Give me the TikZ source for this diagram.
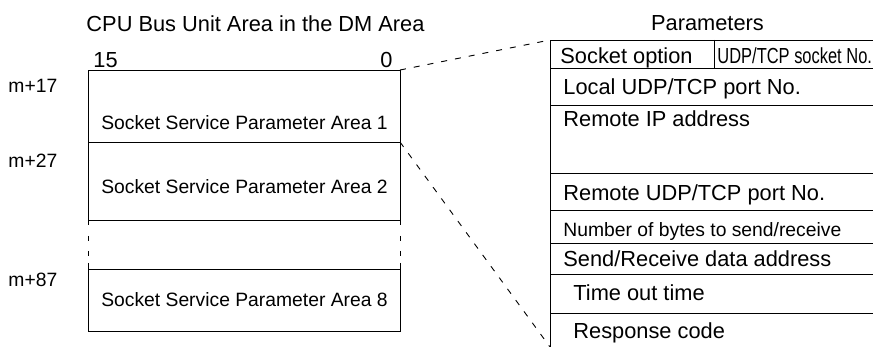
\documentclass[tikz,border=0pt]{standalone}
\usepackage{fontspec}
\setmainfont{Liberation Sans}
\usepackage{graphicx}

\tikzset{
  small/.style={inner sep=0pt,font=\fontsize{19.3}{22}\selectfont},
  large/.style={inner sep=0pt,font=\fontsize{21.8}{25}\selectfont},
  rowtext/.style={large,anchor=base west},
  gapline/.style={dash pattern=on 5pt off 11pt on 5pt off 10pt on 5pt off 7pt on 6pt},
  zoomline/.style={dash pattern=on 6pt off 8pt},
}

\begin{document}
\begin{tikzpicture}[x=1pt,y=-1pt,line width=0.9pt,line cap=butt]
        \useasboundingbox (0,0) rectangle (873,347);

        % Bereich der CPU-Bus-Einheit im DM
        \coordinate (dmtop) at (400,70);
        \coordinate (dmsplit) at (400,142);
        \draw (88,220) -- (88,70) -- (dmtop) -- (400,220);
        \draw (88,142) -- (dmsplit);
        \draw (88,220) -- (400,220);
        \draw (88,269) rectangle (400,331);
        \draw[gapline] (88,220) -- (88,269);
        \draw[gapline] (400,220) -- (400,269);

        \node[large] (dmtitle) at (255.5,23.5) {CPU Bus Unit Area in the DM Area};
        \node[large,anchor=base west] (bit15) at (93,67.5) {15};
        \node[large,anchor=base east] (bit0) at (393,67.5) {0};
        \node[small,anchor=base west] (m17) at (8,93) {m+17};
        \node[small,anchor=base west] (m27) at (8,168) {m+27};
        \node[small,anchor=base west] (m87) at (8,286.5) {m+87};
        \node[small,anchor=base] (area1) at (244.5,129.3) {Socket Service Parameter Area 1};
        \node[small,anchor=base] (area2) at (244.5,193.3) {Socket Service Parameter Area 2};
        \node[small,anchor=base] (area8) at (244.5,306.6) {Socket Service Parameter Area 8};

        % Parametertabelle
        \coordinate (tabtop) at (550,40);
        \coordinate (tabbot) at (550,347);
        \draw (873,40) -- (tabtop) -- (tabbot);
        \foreach \yy in {68,105,173.5,210,243,274,313}
            \draw (550,\yy) -- (873,\yy);
        \draw (714,40) -- (714,68);

        \node[large] (partitle) at (707.5,23.5) {Parameters};
        \node[rowtext] (sockopt) at (560,64) {Socket option};
        \node[rowtext,anchor=base west] (sockno) at (717,64) {\scalebox{0.755}[1]{UDP/TCP socket No.}};
        \node[rowtext] (localport) at (563,95) {Local UDP/TCP port No.};
        \node[rowtext] (remoteip) at (563,126.5) {Remote IP address};
        \node[rowtext] (remoteport) at (563,200.5) {Remote UDP/TCP port No.};
        \node[small,anchor=base west] (nbytes) at (563,236.5) {Number of bytes to send/receive};
        \node[rowtext] (dataaddr) at (563,266.5) {Send/Receive data address};
        \node[rowtext] (timeout) at (573,300.5) {Time out time};
        \node[rowtext] (respcode) at (573,338) {Response code};

        % Vergroesserung
        \draw[zoomline] (dmtop) -- (tabtop);
        \draw[zoomline] (dmsplit) -- (tabbot);
\end{tikzpicture}
\end{document}
